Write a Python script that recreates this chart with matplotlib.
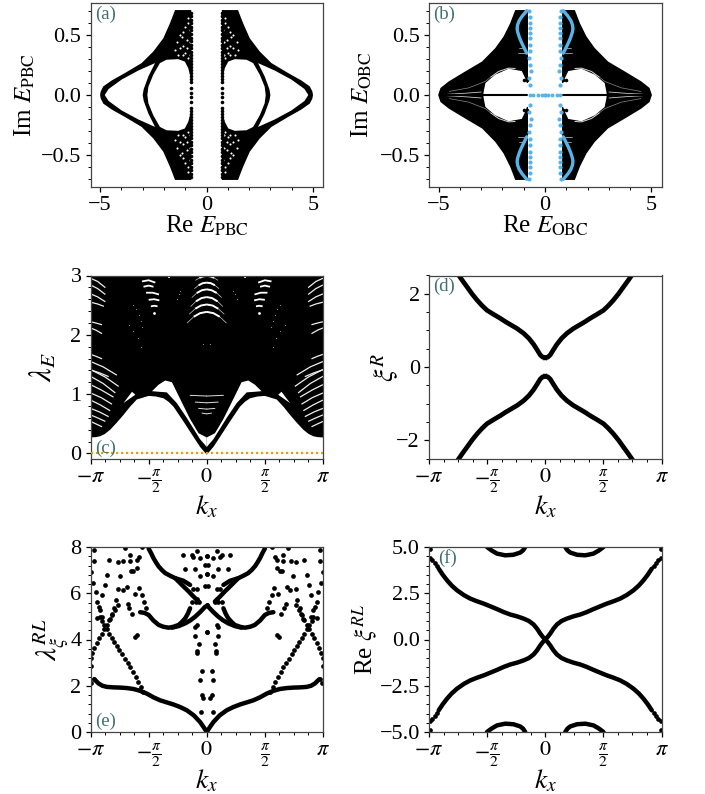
"""
Six panel spectrum figure, all values read off the reference picture.
"""
import numpy as np
import matplotlib
matplotlib.use('Agg')
import matplotlib.pyplot as plt
from matplotlib.ticker import MultipleLocator

plt.rcParams['font.family'] = ['Liberation Serif', 'DejaVu Serif']
plt.rcParams['mathtext.fontset'] = 'stix'

PI = np.pi
BLUE = '#56B4E9'
ORANGE = '#E69F00'
TEAL = '#3f6f6f'
W, H = 705, 794

# ── (a) upper right quadrant outlines as (Re E, Im E) ───────────────────────
A_OUTER = [(0.72, 0.711), (1.48, 0.711), (1.60, 0.655), (1.72, 0.6), (2.03, 0.475), (2.5, 0.364),
           (3.05, 0.267), (3.83, 0.184), (4.45, 0.122), (4.85, 0.072), (4.97, 0.03), (5.0, 0.0)]
A_WEDGE = [(4.78, 0.0), (4.6, 0.05), (3.98, 0.13), (3.2, 0.205), (2.42, 0.267),
           (2.73, 0.156), (2.95, 0.05), (3.0, 0.0)]
A_BLOB = [(2.78, 0.0), (2.73, 0.07), (2.5, 0.17), (2.19, 0.267), (1.88, 0.295), (1.33, 0.3),
          (1.02, 0.28), (0.86, 0.225), (0.78, 0.17), (0.5, 0.17)]
A_SPECKS = [(0.86, 0.642), (1.09, 0.531), (1.25, 0.503), (0.94, 0.461), (1.17, 0.489),
            (1.41, 0.447), (0.8, 0.447), (1.09, 0.406), (0.94, 0.392), (1.25, 0.392),
            (1.48, 0.378), (1.02, 0.35), (0.8, 0.336), (1.33, 0.336), (0.86, 0.309), (1.09, 0.336),
            (0.78, 0.545), (0.89, 0.6), (1.02, 0.573)]
A_EDGE_IM = [0.02, 0.06, 0.11, 0.135, 0.16, 0.185, 0.21, 0.235, 0.26, 0.285, 0.31, 0.335, 0.36,
             0.39, 0.42, 0.45, 0.48, 0.51, 0.54, 0.57, 0.6, 0.63, 0.66, 0.69]

# ── (b) ──────────────────────────────────────────────────────────────────────
B_OUTER = [(0.8, 0.711), (1.4, 0.711), (1.64, 0.6), (1.95, 0.489), (2.34, 0.392), (2.96, 0.28),
           (3.74, 0.198), (4.52, 0.114), (4.91, 0.059), (5.02, 0.0)]
B_BLOB = [(2.9, 0.0), (2.88, 0.03), (2.8, 0.1), (2.34, 0.17), (1.71, 0.22), (1.09, 0.2),
          (0.93, 0.14), (0.85, 0.1), (0.5, 0.1)]
B_STREAK = [(1.4, 0.222), (1.71, 0.225), (2.18, 0.197), (2.55, 0.15)]
B_STREAK2 = [(2.55, 0.15), (2.8, 0.114), (3.58, 0.06), (4.5, 0.03)]
B_SLIVER = [(3.0, 0.025), (3.8, 0.014), (4.6, 0.006)]
B_SHORT = [(0.95, 0.35), (1.25, 0.35)]
B_SHORT2 = [(0.95, 0.39), (1.2, 0.39)]
B_BLACK = [(1.0, 0.125), (0.83, 0.125)]
B_BLUE_CURVE = [(0.86, 0.706), (1.09, 0.656), (1.22, 0.62), (1.29, 0.586), (1.31, 0.555), (1.29, 0.53),
                (1.2, 0.48), (1.09, 0.434), (0.97, 0.39), (0.86, 0.35)]
B_BLUE_COL = [(0.75, 0.7), (0.72, 0.65), (0.7, 0.6), (0.72, 0.56), (0.7, 0.52), (0.7, 0.48), (0.72, 0.42),
              (0.72, 0.37), (0.75, 0.31), (0.72, 0.25), (0.67, 0.2), (0.75, 0.14), (0.7, 0.085)]
B_BLUE_ROW = [0.0, 0.16, 0.31, 0.55, 0.7]

# ── (c) right half, (k_x, lambda_E) ──────────────────────────────────────────
C_LOWER = [(0.0, -0.02), (0.18, 0.11), (0.36, 0.28), (0.63, 0.54), (0.9, 0.79), (1.03, 0.87), (1.17, 0.93),
           (1.37, 0.96), (1.57, 0.97), (1.89, 0.91), (2.07, 0.79), (2.25, 0.65), (2.43, 0.52), (2.61, 0.4),
           (2.75, 0.33), (2.88, 0.29), (3.0, 0.275), (3.1416, 0.27)]
C_GAP = [(0.0, 0.27), (0.22, 0.34), (0.45, 0.58), (0.72, 0.92), (0.94, 1.2), (1.12, 1.23), (1.3, 1.16),
         (1.48, 1.05), (1.3, 1.04), (1.08, 1.03), (0.81, 0.85), (0.54, 0.6), (0.36, 0.42), (0.18, 0.24), (0.0, 0.11)]
C_SMALL_GAP = [(2.02, 1.04), (2.25, 0.85), (1.93, 0.99)]
C_CENTER = [[(0, 2.993), (0.1, 2.985), (0.2, 2.96), (0.3, 2.92)],
            [(0, 2.88), (0.11, 2.87), (0.22, 2.835), (0.33, 2.78)],
            [(0, 2.767), (0.13, 2.752), (0.27, 2.705), (0.4, 2.63)],
            [(0, 2.636), (0.14, 2.62), (0.29, 2.565), (0.43, 2.48)],
            [(0, 2.512), (0.16, 2.493), (0.31, 2.44), (0.47, 2.35)],
            [(0, 2.387), (0.18, 2.365), (0.35, 2.305), (0.53, 2.2)]]
C_LOW_APEX = [0.98, 0.866, 0.76, 0.68]
C_LOW_K = [0.45, 0.31, 0.22, 0.13]
C_SIDE = [[(1.39, 2.88), (1.57, 2.92), (1.75, 2.9)],
          [(1.44, 2.81), (1.57, 2.83), (1.71, 2.81)],
          [(1.29, 2.68), (1.46, 2.71), (1.64, 2.71)],
          [(1.28, 2.58), (1.42, 2.6), (1.57, 2.59)],
          [(1.33, 2.48), (1.42, 2.49), (1.51, 2.48)]]
C_EDGE = [[(2.74, 2.795), (2.95, 2.9), (3.14, 2.953)], [(2.74, 2.68), (2.95, 2.78), (3.14, 2.84)],
          [(2.74, 2.557), (2.95, 2.64), (3.14, 2.69)], [(2.78, 2.48), (2.95, 2.52), (3.14, 2.55)],
          [(2.83, 2.17), (3.0, 2.2), (3.14, 2.22)], [(2.83, 2.02), (3.0, 2.08), (3.14, 2.116)],
          [(2.83, 1.595), (3.0, 1.64), (3.14, 1.67)], [(2.43, 1.32), (2.8, 1.46), (3.14, 1.55)],
          [(2.65, 1.295), (2.9, 1.36), (3.14, 1.41)], [(2.38, 1.13), (2.75, 1.29), (3.14, 1.415)],
          [(2.47, 1.02), (2.8, 1.18), (3.14, 1.3)], [(2.52, 0.95), (2.85, 1.07), (3.14, 1.16)],
          [(2.56, 0.83), (2.85, 0.94), (3.14, 1.02)], [(2.61, 0.72), (2.88, 0.82), (3.14, 0.9)],
          [(2.65, 0.62), (2.9, 0.7), (3.14, 0.76)], [(2.74, 0.54), (2.95, 0.6), (3.14, 0.65)],
          [(2.83, 0.45), (3.0, 0.5), (3.14, 0.54)]]
C_SPOTS = [(1.98, 2.51), (1.9, 2.43), (1.84, 2.34), (1.78, 2.24), (1.74, 2.14), (2.11, 2.17), (1.98, 2.06),
           (1.87, 1.95), (1.78, 1.8), (0.76, 2.68), (0.81, 2.6), (0.72, 2.74), (0.1, 1.85)]
C_NOTCH = [(1.03, 2.96), (1.03, 3.0)]

# ── (d) upper right branch, (k_x, xi^R) ──────────────────────────────────────
D_K = [0.0, 0.07, 0.135, 0.22, 0.315, 0.44, 0.585, 0.76, 0.945, 1.08, 1.215, 1.4, 1.575, 1.71, 1.845, 1.98,
       2.115, 2.23, 2.34, 2.4]
D_XI = [0.255, 0.27, 0.33, 0.47, 0.62, 0.78, 0.92, 1.05, 1.16, 1.24, 1.33, 1.44, 1.55, 1.68, 1.83, 2.0,
        2.19, 2.35, 2.51, 2.6]

# ── (e) right half, (k_x, lambda) ────────────────────────────────────────────
E_MAIN = [(0.0, 0.0), (0.08, 0.2), (0.18, 0.43), (0.35, 0.72), (0.54, 0.94), (0.72, 1.08), (0.9, 1.19),
          (1.08, 1.28), (1.26, 1.37), (1.44, 1.5), (1.62, 1.66), (1.8, 1.78), (1.98, 1.86), (2.16, 1.9),
          (2.34, 1.92), (2.52, 1.93), (2.7, 1.95), (2.82, 2.0), (2.925, 2.1), (3.0, 2.22), (3.04, 2.28)]
E_U1 = [(0.45, 5.35), (0.51, 5.12), (0.58, 4.92), (0.67, 4.76), (0.76, 4.63), (0.9, 4.55), (1.03, 4.51),
        (1.17, 4.55), (1.3, 4.63), (1.44, 4.82), (1.57, 5.06), (1.68, 5.15), (1.8, 5.18)]
E_U2 = [(0.04, 5.42), (0.17, 5.2), (0.31, 4.99), (0.44, 4.83), (0.58, 4.7), (0.76, 4.58), (0.94, 4.51)]
E_UP1 = [(0.22, 5.64), (0.36, 5.86), (0.49, 6.08), (0.67, 6.36), (0.85, 6.65), (0.98, 6.75), (1.12, 6.87),
         (1.21, 7.0), (1.3, 7.16), (1.37, 7.33), (1.44, 7.52), (1.5, 7.72), (1.57, 7.93)]
E_UP2 = [(0.45, 6.36), (0.63, 6.54), (0.85, 6.65)]
E_DOTS = [(0.27, 7.81), (0.0, 7.6), (0.18, 7.52), (0.36, 7.55), (0.40, 7.64), (0.63, 7.67), (0.04, 7.23),
          (0.31, 7.04), (0.58, 7.04), (0.0, 6.83), (0.18, 6.73), (0.04, 6.32), (0.27, 6.19), (0.36, 6.18),
          (1.75, 7.98), (2.2, 7.96), (1.84, 7.55), (2.07, 7.64), (2.07, 7.38), (1.89, 7.45), (2.27, 7.38),
          (2.40, 7.35), (2.63, 7.43), (3.06, 7.38), (1.89, 7.09), (1.98, 6.97), (2.04, 6.97), (2.34, 6.73),
          (2.70, 6.8), (3.08, 6.44), (2.76, 6.34), (1.82, 6.22), (2.16, 6.25), (2.25, 6.15), (2.40, 6.18),
          (3.0, 6.05), (2.83, 5.93), (1.75, 5.93), (1.93, 5.97), (2.45, 5.71), (2.97, 5.64), (2.92, 5.42),
          (1.69, 5.61), (2.14, 5.53), (2.09, 5.38), (2.52, 5.35), (2.88, 5.28), (1.64, 5.35), (2.56, 5.11),
          (2.02, 5.09), (2.61, 4.89), (2.83, 4.99), (2.97, 4.95), (1.89, 4.2), (1.95, 4.1), (0.27, 4.63),
          (0.31, 4.56), (0.0, 4.34), (0.31, 4.17), (0.21, 3.82), (0.25, 3.52), (0.25, 3.4), (0.135, 2.63),
          (0.18, 2.27), (0.135, 1.59), (0.09, 1.45), (0.16, 0.87), (3.13, 6.9), (3.06, 7.86), (3.13, 2.85),
          (3.12, 2.14), (3.06, 2.3), (0.22, 5.64), (0.3, 5.64), (0.4, 5.64), (0.27, 5.75), (0.0, 5.5)]
E_RISE = [(1.71, 1.74), (1.78, 1.95), (1.85, 2.17), (1.92, 2.39), (2.0, 2.6), (2.07, 2.79), (2.14, 2.97),
          (2.21, 3.15), (2.3, 3.36), (2.37, 3.55), (2.43, 3.73), (2.5, 3.91), (2.57, 4.08), (2.63, 4.25),
          (2.7, 4.44), (2.77, 4.63), (2.84, 4.8), (2.88, 4.99)]
E_FALL = [(3.14, 3.18), (3.1, 3.4), (3.04, 3.62), (2.97, 3.84), (2.9, 4.05), (2.84, 4.24), (2.77, 4.44),
          (2.7, 4.63), (2.63, 4.85), (2.57, 5.07), (2.49, 5.28), (2.41, 5.5)]

# ── (f) upper right branch and arch, (k_x, Re xi) ────────────────────────────
F_MAIN = [(0.0, 0.0), (0.07, 0.15), (0.135, 0.32), (0.22, 0.58), (0.315, 0.81), (0.44, 1.0), (0.585, 1.13),
          (0.76, 1.25), (0.945, 1.35), (1.12, 1.48), (1.3, 1.64), (1.48, 1.79), (1.665, 1.94), (1.85, 2.07),
          (2.025, 2.21), (2.2, 2.4), (2.385, 2.66), (2.53, 2.92), (2.655, 3.2), (2.77, 3.5), (2.88, 3.83)]
F_ENDS = [(2.93, 3.98), (2.98, 4.14), (3.05, 4.3), (3.12, 4.38), (3.12, 4.88)]
F_ARCH = [(0.54, 5.0), (0.6, 4.82), (0.675, 4.7), (0.86, 4.58), (1.08, 4.55), (1.3, 4.64), (1.44, 4.8), (1.575, 5.0)]


def xy(points):
    return np.array(points)[:, 0], np.array(points)[:, 1]


def mirror_y(points):
    x, y = xy(points)
    return np.r_[x, x[::-1]], np.r_[y, -y[::-1]]


def fill_sym(ax, points, color):
    x, y = mirror_y(points)
    for sx in (1, -1):
        ax.fill(sx * x, y, color=color, lw=0)


def fill_half(ax, points, color):
    x, y = xy(points)
    for sx in (1, -1):
        ax.fill(sx * x, y, color=color, lw=0)


def lines_sym(ax, points, lw, color='k', flip=False, cap='round'):
    x, y = xy(points)
    for sx in (1, -1):
        ax.plot(sx * x, y, color=color, lw=lw, solid_capstyle=cap, solid_joinstyle='round')
        if flip:
            ax.plot(sx * x, -y, color=color, lw=lw, solid_capstyle=cap, solid_joinstyle='round')


def dots_sym(ax, points, ms, color='k', flip=False):
    x, y = xy(points)
    for sx in (1, -1):
        ax.plot(sx * x, y, 'o', color=color, ms=ms, mew=0)
        if flip:
            ax.plot(sx * x, -y, 'o', color=color, ms=ms, mew=0)


def make_axes(x0, y0, x1, y1):
    ax = fig.add_axes([x0 / W, 1 - y1 / H, (x1 - x0) / W, (y1 - y0) / H])
    for s in ax.spines.values():
        s.set_linewidth(0.9)
        s.set_color('#444444')
    ax.tick_params(which='major', length=3.5, width=0.9, labelsize=16, pad=3)
    ax.tick_params(which='minor', length=2, width=0.7)
    return ax


def k_axis(ax):
    ax.set_xlim(-PI, PI)
    ax.set_xticks([-PI, -PI / 2, 0, PI / 2, PI])
    ax.set_xticklabels([r'$-\pi$', r'$-\frac{\pi}{2}$', r'$0$', r'$\frac{\pi}{2}$', r'$\pi$'])
    ax.xaxis.set_minor_locator(MultipleLocator(PI / 8))
    ax.set_xlabel(r'$k_x$', fontsize=20, labelpad=-1)


def e_axis(ax, xlabel, ylabel, pad):
    ax.set_xlim(-5.45, 5.47)
    ax.set_ylim(-0.77, 0.77)
    ax.set_xticks([-5, 0, 5])
    ax.set_yticks([-0.5, 0, 0.5])
    ax.xaxis.set_minor_locator(MultipleLocator(1))
    ax.yaxis.set_minor_locator(MultipleLocator(0.1))
    ax.set_xlabel(xlabel, fontsize=18, labelpad=-1)
    ax.set_ylabel(ylabel, fontsize=18, labelpad=pad)


def tag(ax, s, x, y):
    ax.text(x, y, s, transform=ax.transAxes, color=TEAL, fontsize=13.5, va='center', ha='left', zorder=10)


fig = plt.figure(figsize=(W / 100, H / 100), dpi=100)

# ── panel a ──────────────────────────────────────────────────────────────────
ax = make_axes(90.5, 3, 323, 187)
fill_sym(ax, A_OUTER, 'k')
fill_sym(ax, A_WEDGE, 'w')
fill_sym(ax, A_BLOB, 'w')
dots_sym(ax, A_SPECKS, 1.5, 'w', flip=True)
dots_sym(ax, [(0.74, v) for v in A_EDGE_IM], 2.6, 'k', flip=True)
e_axis(ax, r'Re $E_{\mathrm{PBC}}$', r'Im $E_{\mathrm{PBC}}$', 3)
tag(ax, '(a)', 0.022, 0.94)

# ── panel b ──────────────────────────────────────────────────────────────────
ax = make_axes(429, 3, 661.5, 187)
fill_sym(ax, B_OUTER, 'k')
fill_sym(ax, B_BLOB, 'w')
lines_sym(ax, B_STREAK, 0.7, '#dddddd', flip=True)
lines_sym(ax, B_STREAK2, 0.5, '#888888', flip=True)
lines_sym(ax, B_SLIVER, 0.6, '#cccccc', flip=True)
lines_sym(ax, B_SHORT, 0.5, '#cccccc', flip=True)
lines_sym(ax, B_SHORT2, 0.5, '#cccccc', flip=True)
lines_sym(ax, [(0.85, 0.0), (4.95, 0.0)], 1.5)
dots_sym(ax, B_BLACK, 2.6, 'k', flip=True)
dots_sym(ax, B_BLUE_COL, 3.0, BLUE, flip=True)
lines_sym(ax, B_BLUE_CURVE, 2.4, BLUE, flip=True)
dots_sym(ax, [(v, 0.0) for v in B_BLUE_ROW], 2.8, BLUE)
e_axis(ax, r'Re $E_{\mathrm{OBC}}$', r'Im $E_{\mathrm{OBC}}$', 4)
tag(ax, '(b)', 0.018, 0.94)

# ── panel c ──────────────────────────────────────────────────────────────────
ax = make_axes(90.5, 275.5, 323, 458.5)
low_x, low_y = xy(C_LOWER)
ax.fill(np.r_[-low_x[::-1], low_x, PI, -PI], np.r_[low_y[::-1], low_y, 3.1, 3.1], color='k', lw=0)
fill_half(ax, C_GAP, 'w')
fill_half(ax, C_SMALL_GAP, 'w')
for arc in C_CENTER:
    lines_sym(ax, arc, 0.5, '#cccccc')
    lines_sym(ax, arc[:3], 1.4, 'w', cap='butt')
for apex, kend in zip(C_LOW_APEX, C_LOW_K):
    lines_sym(ax, [(0, apex - 0.012), (kend, apex)], 0.7, '#dddddd')
for arc in C_SIDE:
    lines_sym(ax, arc, 1.3, 'w', cap='butt')
for arc in C_EDGE:
    lines_sym(ax, arc, 0.9, '#eeeeee', cap='butt')
dots_sym(ax, [(1.42, 2.376)], 2.0, 'w')
dots_sym(ax, C_SPOTS, 0.8, '#999999')
lines_sym(ax, C_NOTCH, 1.3, 'w', cap='butt')
ax.axhline(0, color=ORANGE, lw=1.6, ls=(0, (1, 1.25)), zorder=5)
k_axis(ax)
ax.set_ylim(-0.085, 3)
ax.set_yticks([0, 1, 2, 3])
ax.yaxis.set_minor_locator(MultipleLocator(0.2))
ax.set_ylabel(r'$\lambda_E$', fontsize=22, labelpad=8)
tag(ax, '(c)', 0.022, 0.055)

# ── panel d ──────────────────────────────────────────────────────────────────
ax = make_axes(429, 275.5, 661.5, 458.5)
for sy in (1, -1):
    for sx in (1, -1):
        ax.plot(sx * np.array(D_K), sy * np.array(D_XI), color='k', lw=3.4, solid_joinstyle='round')
k_axis(ax)
ax.set_ylim(-2.5, 2.5)
ax.set_yticks([-2, 0, 2])
ax.yaxis.set_minor_locator(MultipleLocator(0.5))
ax.set_ylabel(r'$\xi^{R}$', fontsize=20, labelpad=-3)
tag(ax, '(d)', 0.018, 0.94)

# ── panel e ──────────────────────────────────────────────────────────────────
ax = make_axes(90.5, 547, 323, 732)
for curve in (E_MAIN, E_U1, E_U2, E_UP1, E_UP2):
    lines_sym(ax, curve, 3.2)
dots_sym(ax, E_DOTS, 3.4)
dots_sym(ax, E_RISE, 3.4)
dots_sym(ax, E_FALL, 3.4)
k_axis(ax)
ax.set_ylim(0, 8)
ax.set_yticks([0, 2, 4, 6, 8])
ax.yaxis.set_minor_locator(MultipleLocator(0.4))
ax.set_ylabel(r'$\lambda_{\xi}^{RL}$', fontsize=21, labelpad=-1)
tag(ax, '(e)', 0.022, 0.06)

# ── panel f ──────────────────────────────────────────────────────────────────
ax = make_axes(429, 547, 661.5, 732)
lines_sym(ax, F_MAIN, 3.2, flip=True)
dots_sym(ax, F_ENDS, 3.4, flip=True)
lines_sym(ax, F_ARCH, 3.2, flip=True)
k_axis(ax)
ax.set_ylim(-5, 5)
ax.set_yticks([-5, -2.5, 0, 2.5, 5])
ax.set_yticklabels(['\u22125.0', '\u22122.5', '0.0', '2.5', '5.0'])
ax.yaxis.set_minor_locator(MultipleLocator(0.5))
ax.set_ylabel(r'Re $\xi^{RL}$', fontsize=18, labelpad=0)
tag(ax, '(f)', 0.04, 0.94)

fig.savefig('out.png', dpi=100)
